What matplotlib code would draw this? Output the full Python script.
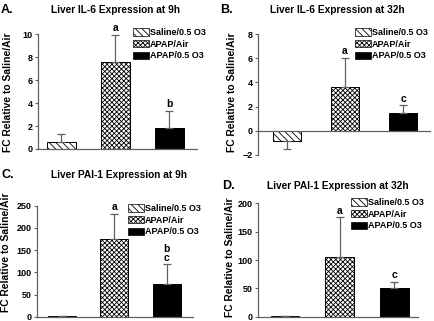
import matplotlib
matplotlib.use("Agg")
import matplotlib.pyplot as plt
from matplotlib.patches import Patch

plt.rcParams['font.family'] = ['Liberation Sans', 'DejaVu Sans']
plt.rcParams['font.weight'] = 'bold'
plt.rcParams['hatch.linewidth'] = 0.6

groups = ["Saline/0.5 O3", "APAP/Air", "APAP/0.5 O3"]

a_vals = [0.6, 7.55, 1.8]
a_err = [0.7, 2.4, 1.55]
a_sig = ["", "a", "b"]

b_vals = [-0.9, 3.65, 1.5]
b_err = [0.65, 2.4, 0.6]
b_sig = ["", "a", "c"]

c_vals = [1, 176, 73]
c_err = [1, 56, 45]
c_sig = ["", "a", "b\nc"]

d_vals = [1, 105, 50]
d_err = [1, 70, 11]
d_sig = ["", "a", "c"]

titles = ["Liver IL-6 Expression at 9h", "Liver IL-6 Expression at 32h",
          "Liver PAI-1 Expression at 9h", "Liver PAI-1 Expression at 32h"]
panel_letters = ["A.", "B.", "C.", "D."]
ylabel = "FC Relative to Saline/Air"

W, H = 435, 321
fig = plt.figure(figsize=(W / 100, H / 100), dpi=100)

def px_axes(l, r, t, b):
    return fig.add_axes([l / W, 1 - b / H, (r - l) / W, (b - t) / H])

hatches = ['\\\\\\\\\\', 'xxxxxxx', None]
faces = ['white', 'white', 'black']
grey = '#606060'

specs = [
    dict(vals=a_vals, err=a_err, sig=a_sig, box=(38, 197, 34.3, 149), ylim=(0, 10), yt=range(0, 11, 2),
         xlim=(-0.43, 2.51), width=0.54, title_xy=(116, 10), let_xy=(1, 10), ylab_xy=(8, 92),
         leg_xy=(133, 28)),
    dict(vals=b_vals, err=b_err, sig=b_sig, box=(258, 430, 34.3, 154.7), ylim=(-2, 8), yt=range(-2, 9, 2),
         xlim=(-0.49, 2.46), width=0.48, title_xy=(337, 10), let_xy=(220, 10), ylab_xy=(232, 92),
         leg_xy=(355, 28)),
    dict(vals=c_vals, err=c_err, sig=c_sig, box=(37, 193, 205.7, 316.7), ylim=(0, 250), yt=range(0, 251, 50),
         xlim=(-0.47, 2.5), width=0.53, title_xy=(119, 175), let_xy=(1, 175), ylab_xy=(6, 252),
         leg_xy=(128, 204)),
    dict(vals=d_vals, err=d_err, sig=d_sig, box=(258, 418, 203.3, 316.7), ylim=(0, 200), yt=range(0, 201, 50),
         xlim=(-0.49, 2.43), width=0.52, title_xy=(338, 186), let_xy=(222, 186), ylab_xy=(230, 257),
         leg_xy=(351, 198)),
]

for i, s in enumerate(specs):
    ax = px_axes(*s['box'])
    x = [0, 1, 2]
    vals = s['vals']
    lower = [e if v < 0 else 0 for v, e in zip(vals, s['err'])]
    upper = [0 if v < 0 else e for v, e in zip(vals, s['err'])]
    bars = ax.bar(x, vals, width=s['width'], color=faces, edgecolor='black', linewidth=0.7,
                  zorder=2)
    for bar, h in zip(bars, hatches):
        if h:
            bar.set_hatch(h)
    ax.errorbar(x, vals, yerr=[lower, upper], fmt='none', ecolor=grey, elinewidth=0.9,
                capsize=2.6, capthick=0.9, zorder=3)
    for xi, v, e, lab in zip(x, vals, upper, s['sig']):
        if lab:
            ax.annotate(lab, (xi, v + e), xytext=(0, 1.2), textcoords='offset points',
                        ha='center', va='bottom', fontsize=7.5, fontweight='bold',
                        linespacing=0.8)
    ax.set_xlim(*s['xlim'])
    ax.set_ylim(*s['ylim'])
    ax.set_yticks(list(s['yt']))
    ax.set_xticks([])
    for sp in ['top', 'right']:
        ax.spines[sp].set_visible(False)
    ax.spines['bottom'].set_position(('data', 0))
    for sp in ['left', 'bottom']:
        ax.spines[sp].set_color(grey)
        ax.spines[sp].set_linewidth(0.9)
    ax.tick_params(axis='y', direction='out', length=2.5, width=0.8, color=grey,
                   labelsize=6.5, pad=1.5)
    for t in ax.get_yticklabels():
        t.set_fontweight('bold')
    ax.patch.set_alpha(0)

    tx, ty = s['title_xy']
    fig.text(tx / W, 1 - ty / H, titles[i], ha='center', va='center', fontsize=7.3, fontweight='bold')
    lx, ly = s['let_xy']
    fig.text(lx / W, 1 - ly / H, panel_letters[i], ha='left', va='center', fontsize=9, fontweight='bold')
    yx, yy = s['ylab_xy']
    fig.text(yx / W, 1 - yy / H, ylabel, ha='center', va='center', rotation=90, fontsize=7.4,
             fontweight='bold')

    handles = [Patch(facecolor=faces[k], edgecolor='black', linewidth=0.5, hatch=hatches[k])
               for k in range(3)]
    lgx, lgy = s['leg_xy']
    fig.legend(handles, groups, loc='upper left', bbox_to_anchor=(lgx / W, 1 - lgy / H),
               frameon=False, handlelength=1.8, handleheight=0.9,
               handletextpad=0.1, labelspacing=0.3, borderpad=0, borderaxespad=0,
               prop={'weight': 'bold', 'size': 6.5})

fig.savefig("out.png", dpi=100)
